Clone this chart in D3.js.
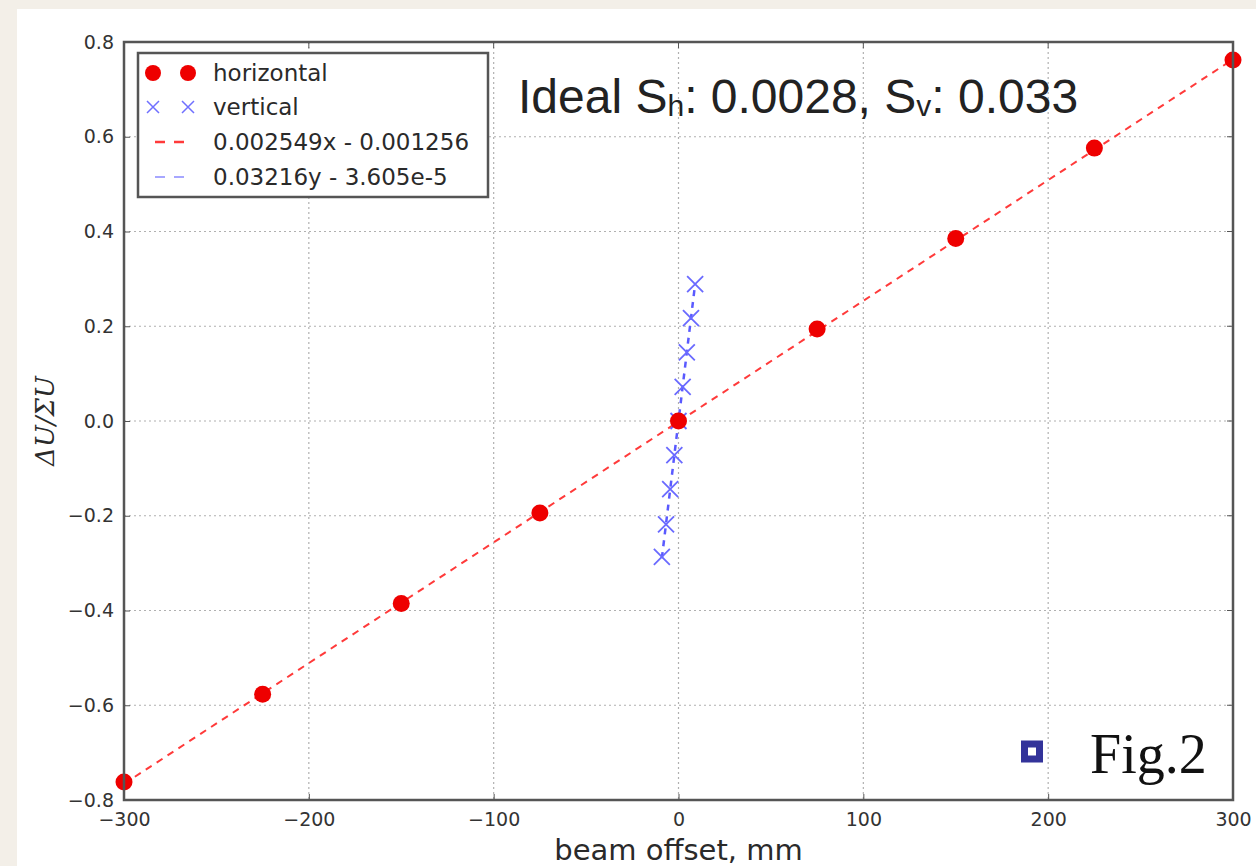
<!DOCTYPE html>
<html>
<head>
<meta charset="utf-8">
<script src="https://cdn.jsdelivr.net/npm/d3@7"></script>
<style>
  html, body { margin: 0; padding: 0; background: #f3efe8; }
  svg { display: block; }
</style>
</head>
<body>
<svg id="chart" width="1256" height="866"></svg>
<script>
// horizontal scan: beam offset (mm) vs dU/sumU
var horizX = [-300, -225, -150, -75, 0, 75, 150, 225, 300],
    horizY = [-0.762, -0.577, -0.385, -0.194, 0.0, 0.194, 0.385, 0.576, 0.762];

// vertical scan
var vertX = [-9.0, -6.75, -4.5, -2.25, 0, 2.25, 4.5, 6.75, 9.0],
    vertY = [-0.287, -0.218, -0.144, -0.072, 0.0, 0.072, 0.145, 0.217, 0.289];

var fitH = {slope: 0.002549, icept: -0.001256},
    fitV = {slope: 0.03216, icept: -3.605e-5};

var xTicks = [-300, -200, -100, 0, 100, 200, 300],
    yTicks = [-0.8, -0.6, -0.4, -0.2, 0.0, 0.2, 0.4, 0.6, 0.8];

var legendLabels = ["horizontal", "vertical", "0.002549x - 0.001256", "0.03216y - 3.605e-5"];

var svg = d3.select("#chart"),
    margin = {top: 42, right: 23, bottom: 66, left: 124},
    width = 1256 - margin.left - margin.right,
    height = 866 - margin.top - margin.bottom;

// white slide panel
svg.append("rect")
    .attr("x", 17).attr("y", 9)
    .attr("width", 1256 - 17).attr("height", 866 - 9)
    .attr("fill", "#fff");

var g = svg.append("g").attr("transform", "translate(" + margin.left + "," + margin.top + ")");

var x = d3.scaleLinear().domain([-300, 300]).range([0, width]),
    y = d3.scaleLinear().domain([-0.8, 0.8]).range([height, 0]);

// grid
g.append("g").selectAll("line")
  .data(xTicks.slice(1, -1))
  .enter().append("line")
    .attr("x1", x).attr("x2", x)
    .attr("y1", 0).attr("y2", height)
    .attr("stroke", "#b0b0b0").attr("stroke-width", 1.2)
    .attr("stroke-dasharray", "2,3");

g.append("g").selectAll("line")
  .data(yTicks.slice(1, -1))
  .enter().append("line")
    .attr("y1", y).attr("y2", y)
    .attr("x1", 0).attr("x2", width)
    .attr("stroke", "#b0b0b0").attr("stroke-width", 1.2)
    .attr("stroke-dasharray", "2,3");

// axes
var xAxis = g.append("g")
    .attr("transform", "translate(0," + height + ")")
    .call(d3.axisBottom(x).tickValues(xTicks).tickSize(-6).tickPadding(13)
      .tickFormat(function(d) { return d3.format("d")(d).replace("-", "\u2212"); }));

var yAxis = g.append("g")
    .call(d3.axisLeft(y).tickValues(yTicks).tickSize(-6).tickPadding(10)
      .tickFormat(function(d) { return d3.format(".1f")(d).replace("-", "\u2212"); }));

[xAxis, yAxis].forEach(function(a) {
  a.select(".domain").remove();
  a.selectAll(".tick line").attr("stroke", "#555");
  a.selectAll("text")
      .attr("font-family", "DejaVu Sans")
      .attr("font-size", 19)
      .attr("fill", "#333");
});

// top/right ticks
g.append("g").selectAll("line")
  .data(xTicks)
  .enter().append("line")
    .attr("x1", x).attr("x2", x)
    .attr("y1", 0).attr("y2", 6)
    .attr("stroke", "#555");
g.append("g").selectAll("line")
  .data(yTicks)
  .enter().append("line")
    .attr("y1", y).attr("y2", y)
    .attr("x1", width).attr("x2", width - 6)
    .attr("stroke", "#555");

// fit lines
g.append("path")
    .datum(d3.extent(horizX))
    .attr("d", d3.line().x(function(d) { return x(d); })
      .y(function(d) { return y(fitH.slope * d + fitH.icept); }))
    .attr("fill", "none")
    .attr("stroke", "#ff3a3a").attr("stroke-width", 2)
    .attr("stroke-dasharray", "7,6");

g.append("path")
    .datum(d3.extent(vertX))
    .attr("d", d3.line().x(function(d) { return x(d); })
      .y(function(d) { return y(fitV.slope * d + fitV.icept); }))
    .attr("fill", "none")
    .attr("stroke", "#5a5aff").attr("stroke-width", 2.5)
    .attr("stroke-dasharray", "6,6");

// vertical points (x markers)
var crossPath = "M-8,-8L8,8M-8,8L8,-8";
g.append("g").selectAll("path")
  .data(d3.zip(vertX, vertY))
  .enter().append("path")
    .attr("d", crossPath)
    .attr("transform", function(d) { return "translate(" + x(d[0]) + "," + y(d[1]) + ")"; })
    .attr("stroke", "#6a6aff").attr("stroke-width", 1.8)
    .attr("fill", "none");

// horizontal points (circles)
g.append("g").selectAll("circle")
  .data(d3.zip(horizX, horizY))
  .enter().append("circle")
    .attr("cx", function(d) { return x(d[0]); })
    .attr("cy", function(d) { return y(d[1]); })
    .attr("r", 8.5)
    .attr("fill", "#ee0000");

// frame
g.append("rect")
    .attr("width", width).attr("height", height)
    .attr("fill", "none")
    .attr("stroke", "#555").attr("stroke-width", 2.5);

// legend
var lg = g.append("g").attr("transform", "translate(14,11)");
lg.append("rect")
    .attr("width", 350).attr("height", 144)
    .attr("fill", "#fff")
    .attr("stroke", "#555").attr("stroke-width", 2.5);

var rowY = [20, 54, 89, 124];
lg.selectAll("text")
  .data(legendLabels)
  .enter().append("text")
    .attr("x", 75)
    .attr("y", function(d, i) { return rowY[i]; })
    .attr("dy", "0.35em")
    .attr("font-family", "DejaVu Sans")
    .attr("font-size", 23)
    .attr("fill", "#2a2a2a")
    .text(function(d) { return d; });

[15, 50].forEach(function(mx) {
  lg.append("circle").attr("cx", mx).attr("cy", rowY[0]).attr("r", 8).attr("fill", "#ee0000");
  lg.append("path").attr("d", "M-6,-6L6,6M-6,6L6,-6")
    .attr("transform", "translate(" + mx + "," + rowY[1] + ")")
    .attr("stroke", "#7070ff").attr("stroke-width", 1.5);
});
lg.append("line").attr("x1", 17).attr("x2", 49)
    .attr("y1", rowY[2]).attr("y2", rowY[2])
    .attr("stroke", "#ff3a3a").attr("stroke-width", 2.5).attr("stroke-dasharray", "10,9");
lg.append("line").attr("x1", 17).attr("x2", 49)
    .attr("y1", rowY[3]).attr("y2", rowY[3])
    .attr("stroke", "#8a8aff").attr("stroke-width", 1.5).attr("stroke-dasharray", "10,9");

// axis labels
svg.append("text")
    .attr("x", margin.left + width / 2).attr("y", 860)
    .attr("text-anchor", "middle")
    .attr("font-family", "DejaVu Sans")
    .attr("font-size", 29)
    .attr("fill", "#2a2a2a")
    .text("beam offset, mm");

svg.append("text")
    .attr("transform", "translate(54," + (margin.top + height / 2) + ") rotate(-90)")
    .attr("text-anchor", "middle")
    .attr("font-family", "DejaVu Serif")
    .attr("font-style", "italic")
    .attr("font-size", 26)
    .attr("fill", "#2a2a2a")
    .text("\u0394U/\u03A3U");

// annotation
var ann = svg.append("text")
    .attr("x", 518).attr("y", 113)
    .attr("font-family", "Liberation Sans")
    .attr("font-size", 48)
    .attr("fill", "#222");
ann.append("tspan").text("Ideal S");
ann.append("tspan").attr("font-size", 30).attr("dy", 3).text("h");
ann.append("tspan").attr("dy", -3).text(": 0.0028, S");
ann.append("tspan").attr("font-size", 30).attr("dy", 3).text("v");
ann.append("tspan").attr("dy", -3).text(": 0.033");

// Fig.2 label
svg.append("rect")
    .attr("x", 1024.5).attr("y", 744)
    .attr("width", 15).attr("height", 15)
    .attr("fill", "#fff")
    .attr("stroke", "#33339a").attr("stroke-width", 7);
svg.append("text")
    .attr("x", 1090).attr("y", 773)
    .attr("font-family", "Liberation Serif")
    .attr("font-size", 56)
    .attr("fill", "#111")
    .text("Fig.2");
</script>
</body>
</html>
